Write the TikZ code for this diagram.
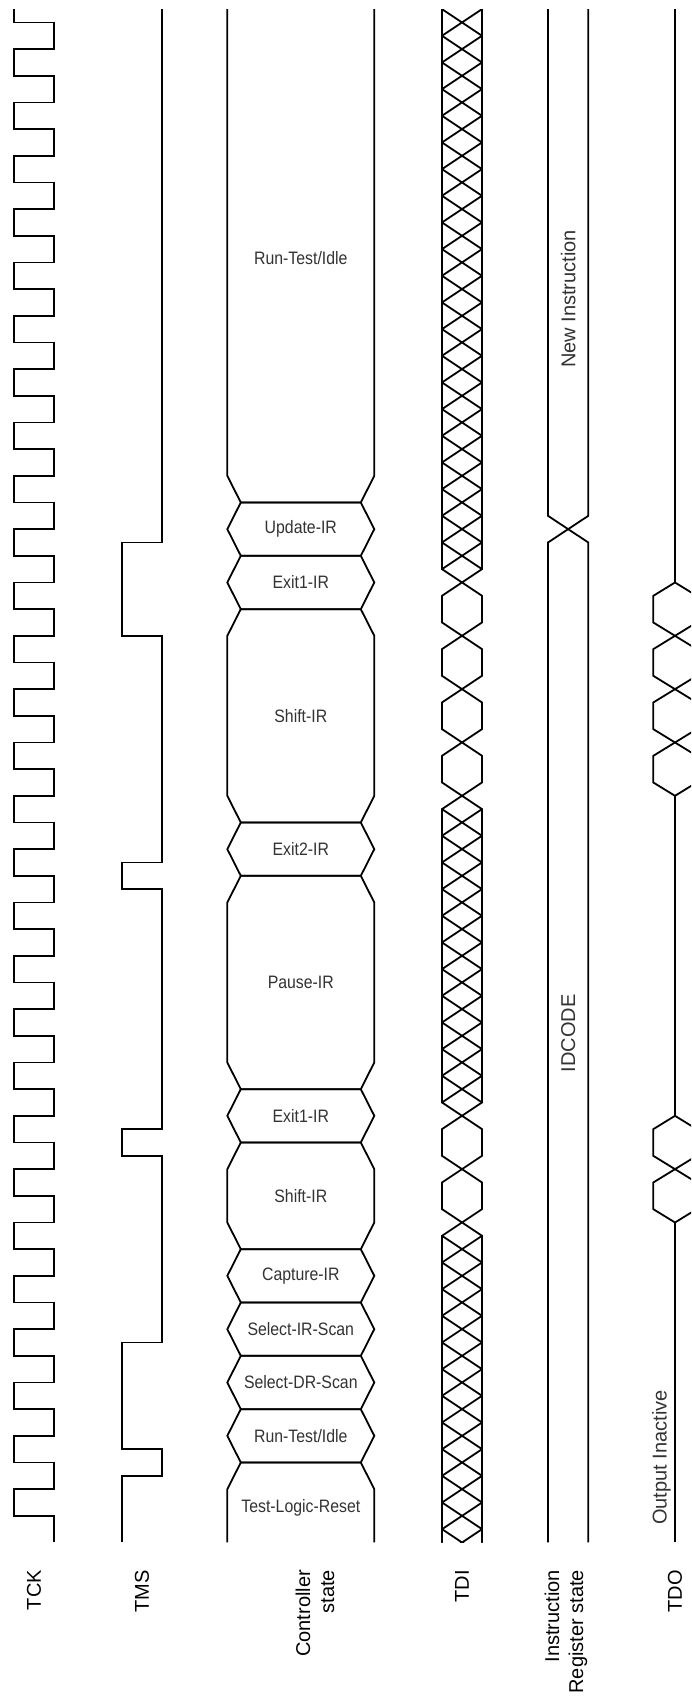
\documentclass[tikz,border=0pt]{standalone}
\usepackage{fontspec}
\setmainfont{Liberation Sans}
\newfontfamily\narrowsf[FakeStretch=0.88]{Liberation Sans}
\definecolor{stgray}{HTML}{333333}
\begin{document}
\begin{tikzpicture}[x=1pt,y=26.6667pt,
  sig/.style={line width=1.8pt, line join=miter},
  hx/.style={line width=1.8pt, line cap=round},
  lbl/.style={font=\fontsize{20}{24}\selectfont, rotate=90, anchor=east, inner sep=0pt, align=right},
  st/.style={font={\narrowsf\fontsize{18}{20}\selectfont}, text=stgray, inner sep=0pt},
  vtxt/.style={font=\fontsize{20}{24}\selectfont, rotate=90, inner sep=0pt, text=stgray}]
\clip (0,-6.01875) rectangle (691,57.84375);
\fill[white] (0,-6.01875) rectangle (691,57.84375);
% TCK
\draw[sig] (54.3,0) \foreach \k in {1,3,...,55}{ -- (54.3,\k) -- (14,\k) -- (14,{\k+1}) -- (54.3,{\k+1}) } -- (54.3,57) -- (14,57) -- (14,57.5);
% TMS
\draw[sig] (121.7,0) -- (121.7,2.5) -- (162.3,2.5) -- (162.3,3.5) -- (121.7,3.5) -- (121.7,7.5) -- (162.3,7.5) -- (162.3,14.5) -- (121.7,14.5) -- (121.7,15.5) -- (162.3,15.5) -- (162.3,24.5) -- (121.7,24.5) -- (121.7,25.5) -- (162.3,25.5) -- (162.3,34) -- (121.7,34) -- (121.7,37.5) -- (162.3,37.5) -- (162.3,57.5);
% Controller states
\draw[sig] (227.3,0) -- (227.3,2) -- (240.8,3) -- (360.8,3) -- (374.3,2) -- (374.3,0);
\foreach \a/\b in {3/5,5/7,7/9,9/11,11/15,15/17,17/25,25/27,27/35,35/37,37/39}
  \draw[sig] (240.8,\a) -- (227.3,{\a+1}) -- (227.3,{\b-1}) -- (240.8,\b) -- (360.8,\b) -- (374.3,{\b-1}) -- (374.3,{\a+1}) -- (360.8,\a) -- cycle;
\draw[sig] (227.3,57.5) -- (227.3,40) -- (240.8,39) -- (360.8,39) -- (374.3,40) -- (374.3,57.5);
\node[st] (tlr) at (300.8,1.29) {Test-Logic-Reset};
\node[st] (rti1) at (300.8,4) {Run-Test/Idle};
\node[st] (sdr) at (300.8,6) {Select-DR-Scan};
\node[st] (sir) at (300.8,8) {Select-IR-Scan};
\node[st] (cap) at (300.8,10) {Capture-IR};
\node[st] (sh1) at (300.8,13) {Shift-IR};
\node[st] (ex1a) at (300.8,16) {Exit1-IR};
\node[st] (pause) at (300.8,21) {Pause-IR};
\node[st] (ex2) at (300.8,26) {Exit2-IR};
\node[st] (sh2) at (300.8,31) {Shift-IR};
\node[st] (ex1b) at (300.8,36) {Exit1-IR};
\node[st] (upd) at (300.8,38) {Update-IR};
\node[st] (rti2) at (300.8,48.17) {Run-Test/Idle};
% TDI
\begin{scope}
\clip (430,0) rectangle (500,57.5);
\foreach \n in {0,...,12,14,16,17,...,28,30,32,34,36,37,...,57}
  \draw[hx] (442,{\n-0.5}) -- (482,{\n+0.5}) (482,{\n-0.5}) -- (442,{\n+0.5});
\foreach \p/\q in {0/11.5,12.5/13.5,14.5/15.5,16.5/27.5,28.5/29.5,30.5/31.5,32.5/33.5,34.5/35.5,36.5/57.5}
  \draw[hx] (442,\p) -- (442,\q) (482,\p) -- (482,\q);
\end{scope}
% Instruction register
\draw[sig] (548,0) -- (548,37.5) -- (588.3,38.5) -- (588.3,57.5);
\draw[sig] (588.3,0) -- (588.3,37.5) -- (548,38.5) -- (548,57.5);
\node[vtxt, anchor=east] (newi) at (568.2,49.22) {New Instruction};
\node[vtxt] (idc) at (568.2,19.1) {IDCODE};
% TDO
\draw[sig] (675,0) -- (675,12) (675,16) -- (675,28) (675,36) -- (675,57.5);
\foreach \m in {12,14,28,30,32,34}
  \draw[sig] (675,\m) -- (653.3,{\m+0.5}) -- (653.3,{\m+1.5}) -- (675,{\m+2}) -- (696.7,{\m+1.5}) -- (696.7,{\m+0.5}) -- cycle;
\node[vtxt, anchor=west] (outi) at (661.5,0.66) {Output Inactive};
% bottom labels
\node[lbl] (ltck) at (34,-1.03) {TCK};
\node[lbl] (ltms) at (142,-1.03) {TMS};
\node[lbl] (lctl) at (315,-1.03) {Controller\\state};
\node[lbl] (ltdi) at (462,-1.03) {TDI};
\node[lbl] (lir) at (566,-1.03) {Instruction\\Register state};
\node[lbl] (ltdo) at (675,-1.03) {TDO};
\end{tikzpicture}
\end{document}
